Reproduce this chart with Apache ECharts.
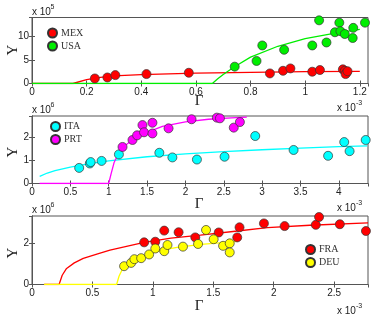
<!DOCTYPE html>
<html><head><meta charset="utf-8">
<script src="https://cdn.jsdelivr.net/npm/echarts@6/dist/echarts.min.js"></script>
<style>html,body{margin:0;padding:0;background:#fff}#c{width:374px;height:317px}</style>
</head><body><div id="c"></div><script>
// ---- Panel 1 (x in 1e-3, y in 1e5) ----
const mexX = [0.230,0.276,0.305,0.419,0.574,0.871,0.919,0.946,1.026,1.054,1.138,1.145,1.152,1.148,1.155];
const mexY = [1.07,1.28,1.78,2.00,2.28,2.14,2.70,3.20,2.50,2.86,3.00,2.70,2.30,2.00,2.60];
const usaX = [0.742,0.822,0.843,0.923,1.026,1.051,1.078,1.109,1.125,1.129,1.145,1.176,1.174,1.219];
const usaY = [3.57,4.78,8.07,7.15,8.07,13.4,8.70,10.87,12.9,11.1,10.5,11.8,9.65,12.9];
const fitMexX = [0,0.15,0.2,0.25,0.3,0.4,0.5,0.6,0.8,1.0,1.2];
const fitMexY = [0,0,0.8,1.3,1.6,1.9,2.05,2.2,2.35,2.5,2.58];
const fitUsaX = [0,0.66,0.68,0.70,0.74,0.8,0.9,1.0,1.1,1.2];
const fitUsaY = [0,0,1.0,1.9,3.5,5.6,7.9,9.5,10.6,11.5];
// ---- Panel 2 (x in 1e-3, y in 1e6) ----
const itaX = [0.615,0.754,0.765,0.907,1.133,1.66,1.83,2.15,2.51,2.91,3.41,3.86,4.07,4.14,4.35];
const itaY = [0.67,0.86,0.92,0.97,1.25,1.32,1.12,1.03,1.15,2.04,1.44,1.19,1.78,1.39,1.87];
const prtX = [1.18,1.31,1.37,1.44,1.46,1.57,1.57,1.78,2.08,2.41,2.45,2.63,2.71];
const prtY = [1.57,1.87,2.07,2.51,2.20,2.15,2.61,2.37,2.76,2.83,2.80,2.40,2.64];
const fitItaX = [0.1,0.2,0.3,0.5,0.75,1.0,1.5,2.0,2.5,3.0,3.5,4.0,4.37];
const fitItaY = [0.31,0.45,0.55,0.70,0.85,0.97,1.15,1.27,1.37,1.45,1.52,1.58,1.62];
const fitPrtX = [0.1,1.0,1.03,1.07,1.12,1.2,1.3,1.4,1.5,1.7,2.0,2.3,2.6,2.8];
const fitPrtY = [0,0,0.4,0.9,1.25,1.6,1.85,2.05,2.2,2.45,2.65,2.76,2.82,2.85];
// ---- Panel 3 (x in 1e-3, y in 1e6) ----
const fraX = [0.928,1.02,1.094,1.213,1.351,1.545,1.698,1.717,1.919,2.09,2.348,2.375,2.547,2.763];
const fraY = [2.05,2.08,2.62,2.54,2.29,2.53,2.29,2.78,2.97,2.84,2.90,3.28,2.93,2.60];
const deuX = [0.762,0.82,0.847,0.903,0.969,1.02,1.094,1.121,1.249,1.374,1.44,1.503,1.581,1.636,1.636];
const deuY = [0.89,1.05,1.23,1.28,1.46,1.75,1.62,1.92,1.84,1.97,2.65,2.20,1.88,2.00,1.56];
const fitFraX = [0.1,0.224,0.25,0.286,0.35,0.424,0.55,0.645,0.8,0.928,1.15,1.393,1.7,1.947,2.3,2.78];
const fitFraY = [0,0,0.45,0.78,1.05,1.27,1.5,1.67,1.88,2.05,2.25,2.4,2.6,2.76,2.88,3.0];
const fitDeuX = [0.1,0.7,0.72,0.76,0.8,0.9,1.0,1.1,1.2,1.4,1.6,1.7];
const fitDeuY = [0,0,0.4,0.9,1.08,1.35,1.55,1.7,1.8,1.95,2.05,2.1];

const xTicks = [{min:0,max:1.23,interval:0.2},{min:0,max:4.38,interval:0.5},{min:0,max:2.78,interval:0.5}];
const yTicks = [{min:0,max:14,interval:5},{min:0,max:2.9,interval:1},{min:0,max:3.33,interval:2}];

const zip = (a,b) => a.map((v,i)=>[v,b[i]]);
const C = {red:'#ff0000',green:'#00ee00',cyan:'#00ffff',mag:'#ff00ff',yel:'#ffff00'};
const axisColor = '#555';
const tickFont = {fontFamily:'Liberation Sans',fontSize:10,color:'#222'};

const grids = [
  {left:32,right:6,top:17.5,height:66},
  {left:32,right:6,top:116,height:67.5},
  {left:32,right:6,top:216,height:68.5}
].map(g=>Object.assign(g,{show:true,borderColor:axisColor,borderWidth:1,backgroundColor:'transparent'}));

const xAxis=[], yAxis=[];
for (let i=0;i<3;i++){
  const fmtX = v => (Math.abs(v/xTicks[i].interval - Math.round(v/xTicks[i].interval))<1e-6) ? String(+v.toFixed(2)) : '';
  const fmtY = v => (Math.abs(v/yTicks[i].interval - Math.round(v/yTicks[i].interval))<1e-6) ? String(+v.toFixed(2)) : '';
  xAxis.push({type:'value',gridIndex:i,position:'bottom',...xTicks[i],
    axisLine:{lineStyle:{color:axisColor}},axisTick:{inside:true,length:3,lineStyle:{color:axisColor}},
    splitLine:{show:false},axisLabel:{...tickFont,margin:4,formatter:fmtX,showMaxLabel:false}});
  xAxis.push({type:'value',gridIndex:i,position:'top',...xTicks[i],
    axisLine:{lineStyle:{color:axisColor}},axisTick:{inside:true,length:3,lineStyle:{color:axisColor}},
    splitLine:{show:false},axisLabel:{show:false}});
  yAxis.push({type:'value',gridIndex:i,position:'left',...yTicks[i],
    axisLine:{lineStyle:{color:axisColor}},axisTick:{inside:true,length:3,lineStyle:{color:axisColor}},
    splitLine:{show:false},axisLabel:{...tickFont,margin:3,formatter:fmtY,showMaxLabel:false}});
  yAxis.push({type:'value',gridIndex:i,position:'right',...yTicks[i],
    axisLine:{lineStyle:{color:axisColor}},axisTick:{inside:true,length:3,lineStyle:{color:axisColor}},
    splitLine:{show:false},axisLabel:{show:false}});
}

function lineS(name,p,x,y,color){
  return {name,type:'line',xAxisIndex:2*p,yAxisIndex:2*p,data:zip(x,y),showSymbol:false,symbol:'none',
    lineStyle:{color,width:1.3},itemStyle:{color},silent:true,z:2,animation:false};
}
function scat(name,p,x,y,color){
  return {name,type:'scatter',xAxisIndex:2*p,yAxisIndex:2*p,data:zip(x,y),symbol:'circle',symbolSize:9,
    itemStyle:{color,borderColor:'#333',borderWidth:0.7,opacity:1},z:3,animation:false};
}
const series = [
  lineS('fitMEX',0,fitMexX,fitMexY,C.red), lineS('fitUSA',0,fitUsaX,fitUsaY,C.green),
  scat('MEX',0,mexX,mexY,C.red), scat('USA',0,usaX,usaY,C.green),
  lineS('fitITA',1,fitItaX,fitItaY,C.cyan), lineS('fitPRT',1,fitPrtX,fitPrtY,C.mag),
  scat('ITA',1,itaX,itaY,C.cyan), scat('PRT',1,prtX,prtY,C.mag),
  lineS('fitFRA',2,fitFraX,fitFraY,C.red), lineS('fitDEU',2,fitDeuX,fitDeuY,C.yel),
  scat('FRA',2,fraX,fraY,C.red), scat('DEU',2,deuX,deuY,C.yel)
];

const legBase = {orient:'vertical',icon:'circle',itemWidth:9,itemHeight:9,itemGap:2,selectedMode:false,
  textStyle:{fontFamily:'Liberation Serif',fontSize:10,color:'#333',padding:[0,0,0,-1]},padding:0};
const legend = [
  {...legBase,data:['MEX','USA'],left:47,top:27.5},
  {...legBase,data:['ITA','PRT'],left:50,top:121},
  {...legBase,data:['FRA','DEU'],left:305,top:244}
];

const serif = 'Liberation Serif';
function txt(x,y,s,size,extra){ return Object.assign({type:'text',x,y,style:{text:s,fontFamily:'Liberation Sans',fontSize:size,fill:'#222'}},extra||{}); }
const graphic = [];
const expTop = [['5',12],['6',110],['6',210]];
expTop.forEach(([e,y])=>{
  graphic.push(txt(32,y,'x 10',10,{style:{text:'x 10',fontFamily:'Liberation Sans',fontSize:10,fill:'#222',textVerticalAlign:'middle'}}));
  graphic.push(txt(50.5,y-5,e,7,{style:{text:e,fontFamily:'Liberation Sans',fontSize:7,fill:'#222',textVerticalAlign:'middle'}}));
});
const expBot = [108,208,311];
expBot.forEach(y=>{
  graphic.push({type:'text',x:337,y,style:{text:'x 10',fontFamily:'Liberation Sans',fontSize:10,fill:'#222',textVerticalAlign:'middle'}});
  graphic.push({type:'text',x:356,y:y-5,style:{text:'-3',fontFamily:'Liberation Sans',fontSize:7,fill:'#222',textVerticalAlign:'middle'}});
});
[101,204,306].forEach(y=>{
  graphic.push({type:'text',x:199,y,style:{text:'Γ',fontFamily:serif,fontSize:15,fill:'#222',textAlign:'center',textVerticalAlign:'middle'}});
});
[50,152,253].forEach(y=>{
  graphic.push({type:'text',x:13,y,rotation:Math.PI/2,style:{text:'Y',fontFamily:serif,fontSize:15,fill:'#222',textAlign:'center',textVerticalAlign:'middle'}});
});

const chart = echarts.init(document.getElementById('c'),null,{renderer:'canvas'});
chart.setOption({animation:false,grid:grids,xAxis,yAxis,series,legend,graphic});
</script></body></html>
